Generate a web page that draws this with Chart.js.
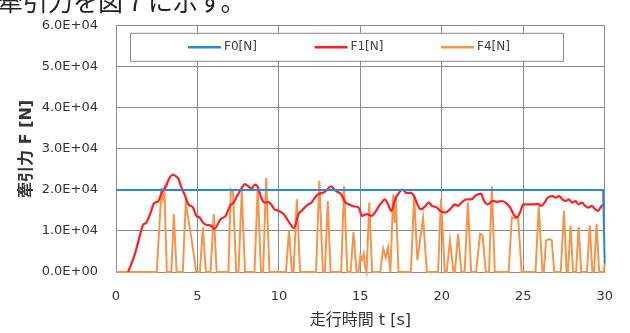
<!DOCTYPE html>
<html>
<head>
<meta charset="utf-8">
<script src="https://cdn.jsdelivr.net/npm/chart.js@4/dist/chart.umd.min.js"></script>
<style>
  html, body { margin: 0; padding: 0; background: #fff; overflow: hidden; }
  #wrap { position: relative; width: 630px; height: 333px; }
  #caption {
    position: absolute; left: -2px; top: -12px; z-index: 2;
    font-family: "Noto Sans CJK JP", sans-serif; font-size: 25px; line-height: 25px;
    color: #222; white-space: nowrap;
  }
  canvas { position: absolute; left: 0; top: 0; }
</style>
</head>
<body>
<div id="wrap">
  <div id="caption">牽引力を図 7 に示す。</div>
  <canvas id="c" width="630" height="333"></canvas>
</div>
<script>
// Series: time [s] and traction force [N]
const timeF0  = [0, 29.9, 30];
const forceF0 = [20000, 20000, 2000];

const timeF1 = [0.74, 1.14, 1.44, 1.64, 1.87, 2.13, 2.33, 2.6, 2.84, 3.04, 3.23, 3.47, 3.63, 3.83,
  4.03, 4.23, 4.43, 4.73, 4.93, 5.13, 5.33, 5.53, 5.83, 6.03, 6.43, 6.73, 7.03, 7.2, 7.43, 7.72,
  7.92, 8.12, 8.32, 8.52, 8.68, 8.92, 9.12, 9.32, 9.52, 9.72, 10.0, 10.3, 10.5, 10.7, 10.9, 11.0,
  11.2, 11.4, 11.6, 11.8, 12.0, 12.2, 12.4, 12.7, 12.9, 13.2, 13.4, 13.6, 13.8, 14.1, 14.3, 14.6,
  14.9, 15.1, 15.4, 15.7, 15.9, 16.1, 16.3, 16.5, 16.7, 16.9, 17.1, 17.3, 17.6, 17.8, 18.1, 18.3,
  18.5, 18.7, 18.9, 19.2, 19.4, 19.7, 19.9, 20.2, 20.4, 20.6, 20.8, 21.0, 21.2, 21.5, 21.8, 22.1,
  22.4, 22.6, 22.8, 23.1, 23.4, 23.7, 24.0, 24.2, 24.4, 24.6, 24.8, 25.0, 25.3, 25.6, 25.9, 26.1,
  26.3, 26.5, 26.8, 27.0, 27.2, 27.4, 27.6, 27.8, 28.0, 28.2, 28.4, 28.6, 28.8, 29.0, 29.2, 29.4,
  29.6, 29.8, 30.0];
const forceF1 = [0, 4100, 8500, 11300, 12100, 14500, 16700, 17300, 19700, 20600, 22500, 23700, 23500, 22700,
  20500, 18700, 16600, 15700, 13700, 13300, 12100, 11500, 11300, 10500, 12900, 13700, 16300, 16800, 18500, 20500,
  21400, 20900, 20300, 21300, 20900, 18100, 16900, 17100, 16500, 15300, 14900, 14100, 12900, 11700, 10700, 11300,
  14100, 14900, 15800, 16500, 16900, 18100, 18900, 19300, 19800, 20900, 20100, 19500, 19000, 16900, 16500, 16000,
  15700, 13700, 14100, 13700, 14500, 15800, 16900, 17700, 16500, 14900, 17300, 18900, 20100, 19300, 19300, 18500,
  16500, 15300, 15700, 16900, 16100, 15700, 14900, 14500, 14900, 15700, 16500, 16100, 16900, 17700, 17700, 18700,
  19100, 17300, 16500, 17300, 17100, 17300, 16600, 15700, 14100, 13300, 14500, 16500, 16500, 16500, 16600, 16100,
  16900, 18100, 18500, 18100, 18500, 17700, 17300, 17700, 16900, 17300, 16500, 16900, 16100, 15700, 16100, 15300,
  14900, 16100, 16500];

const timeF4 = [0, 2.5, 2.8, 2.88, 2.97, 3.12,
  3.4, 3.55, 3.72,
  4.1, 4.28, 4.6, 4.75, 4.92,
  5.15, 5.33, 5.52,
  5.8, 6.0, 6.18,
  6.9, 7.05, 7.18, 7.38,
  7.52, 7.72, 7.92,
  8.5, 8.7, 8.9,
  9.03, 9.22, 9.42,
  10.43, 10.62, 10.8,
  10.9, 11.1, 11.3,
  12.28, 12.48, 12.7,
  12.82, 13.0, 13.17,
  13.82, 14.0, 14.2,
  14.4, 14.58, 14.76,
  14.88, 15.0, 15.1, 15.2, 15.3, 15.38, 15.55, 15.72,
  16.22, 16.4, 16.55, 16.7, 16.84, 17.02, 17.1, 17.17, 17.34,
  18.1, 18.3, 18.5, 18.85, 19.08,
  19.77, 19.95, 20.18,
  20.3, 20.5, 20.72,
  20.8, 21.0, 21.2,
  21.4, 21.6, 21.8,
  22.1, 22.35, 22.5, 22.7,
  22.9, 23.07, 23.25,
  24.1, 24.3, 24.5, 24.68, 24.9,
  25.75, 25.95, 26.18,
  26.26, 26.4, 26.6, 26.75, 26.9,
  27.3, 27.5, 27.66,
  27.74, 27.9, 28.06,
  28.24, 28.4, 28.56,
  28.91, 29.08, 29.24,
  29.34, 29.5, 29.66,
  29.93, 30];
const forceF4 = [0, 0, 20500, 18000, 20000, 0,
  0, 14100, 0,
  0, 16900, 9000, 5000, 0,
  0, 10900, 0,
  0, 14100, 0,
  0, 20100, 19500, 0,
  0, 19700, 0,
  0, 20500, 0,
  0, 22900, 0,
  0, 10000, 0,
  0, 17700, 0,
  0, 22200, 0,
  0, 17300, 0,
  0, 20900, 0,
  0, 9700, 0,
  0, 4000, 3000, 4500, 1000, 0, 16900, 0,
  0, 5700, 3500, 6000, 0, 18900, 12000, 18500, 0,
  0, 18500, 2900, 13300, 0,
  0, 17700, 0,
  0, 7700, 0,
  0, 9300, 0,
  0, 16900, 0,
  0, 9300, 9000, 0,
  0, 20900, 0,
  0, 13300, 13000, 13500, 0,
  0, 16000, 0,
  0, 7700, 8000, 7700, 0,
  0, 14900, 0,
  0, 11300, 0,
  0, 11000, 0,
  0, 11300, 0,
  0, 11700, 0,
  0, 2000];

const seriesLabels = ['F0[N]', 'F1[N]', 'F4[N]'];
const xTickLabels = ['0', '5', '10', '15', '20', '25', '30'];
const yTickLabels = ['0.0E+00', '1.0E+04', '2.0E+04', '3.0E+04', '4.0E+04', '5.0E+04', '6.0E+04'];
const xTitle = '走行時間 t [s]';
const yTitle = '牽引力 F [N]';

const toPoints = (ts, vs) => ts.map((t, i) => ({ x: t, y: vs[i] }));

const FONT = '"DejaVu Sans", "Noto Sans CJK JP", sans-serif';
const GRID = '#8c8c8c';

// Framed legend drawn inside the plot area, above the grid
const boxLegend = {
  id: 'boxLegend',
  beforeDatasetsDraw(chart) {
    const { ctx, chartArea: a } = chart;
    const bx = a.left + 14, by = a.top + 7, bw = 433, bh = 28;
    ctx.save();
    ctx.fillStyle = '#ffffff';
    ctx.fillRect(bx, by, bw, bh);
    ctx.strokeStyle = GRID;
    ctx.lineWidth = 1;
    ctx.strokeRect(bx + 0.5, by + 0.5, bw, bh);
    ctx.font = '12px ' + FONT;
    ctx.textBaseline = 'middle';
    const lineLen = 33, gap = 3, pitch = 126.5, cy = by + bh / 2 + 0.5;
    chart.data.datasets.forEach((ds, i) => {
      const x0 = bx + 58 + i * pitch;
      ctx.strokeStyle = ds.borderColor;
      ctx.lineWidth = 2.5;
      ctx.beginPath();
      ctx.moveTo(x0, cy);
      ctx.lineTo(x0 + lineLen, cy);
      ctx.stroke();
      ctx.fillStyle = '#404040';
      ctx.fillText(ds.label, x0 + lineLen + gap, cy);
    });
    ctx.restore();
  }
};

new Chart(document.getElementById('c'), {
  type: 'line',
  data: {
    datasets: [
      { label: seriesLabels[0], data: toPoints(timeF0, forceF0), borderColor: '#2b87d8', borderWidth: 2, tension: 0, clip: false },
      { label: seriesLabels[1], data: toPoints(timeF1, forceF1), borderColor: '#ff1f1f', borderWidth: 2.2, cubicInterpolationMode: 'monotone' },
      { label: seriesLabels[2], data: toPoints(timeF4, forceF4), borderColor: '#f7944a', borderWidth: 2, tension: 0, clip: false }
    ]
  },
  options: {
    responsive: false,
    animation: false,
    events: [],
    elements: { point: { radius: 0 } },
    layout: { padding: { top: 22, right: 13, left: 0, bottom: 0 } },
    plugins: { legend: { display: false }, tooltip: { enabled: false } },
    scales: {
      x: {
        type: 'linear', min: 0, max: 30,
        afterFit(s) { s.height = 61; },
        ticks: {
          stepSize: 5, autoSkip: false, maxRotation: 0, padding: 17,
          color: '#333', font: { family: FONT, size: 13 },
          callback: (v, i) => xTickLabels[i]
        },
        grid: { color: GRID, lineWidth: 1, drawTicks: false },
        border: { display: true, color: GRID },
        title: { display: true, text: xTitle, color: '#333', font: { family: FONT, size: 16 }, padding: { top: 0, bottom: 3 } }
      },
      y: {
        min: 0, max: 60000,
        afterFit(s) { s.width = 116; },
        ticks: {
          stepSize: 10000, padding: 18,
          color: '#333', font: { family: FONT, size: 13 },
          callback: (v, i) => yTickLabels[i]
        },
        grid: { color: GRID, lineWidth: 1, drawTicks: false },
        border: { display: true, color: GRID },
        title: { display: true, text: yTitle, color: '#333', font: { family: FONT, size: 16, weight: 'bold' }, padding: { top: 17, bottom: 0 } }
      }
    }
  },
  plugins: [boxLegend]
});
</script>
</body>
</html>
